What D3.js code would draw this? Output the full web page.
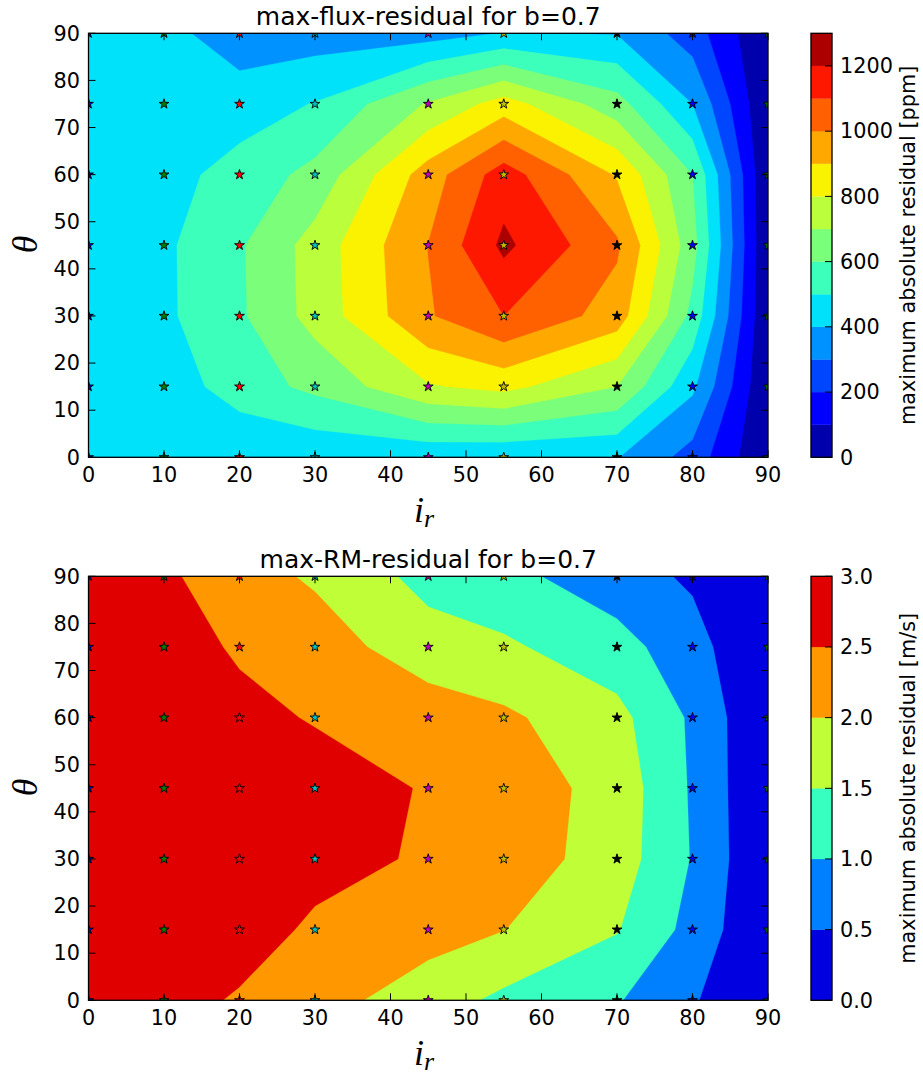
<!DOCTYPE html>
<html><head><meta charset="utf-8">
<script src="https://cdn.jsdelivr.net/npm/d3@7"></script>
<style>
body{margin:0;background:#fff}
svg{display:block}
text{font-family:"DejaVu Sans",sans-serif;fill:#000}
</style>
</head><body>
<svg id="chart" width="923" height="1075"></svg>
<script>
// ---------------- data ----------------
const irValues = [0, 10, 20, 30, 45, 55, 70, 80, 90];
const thetaValues = [0, 15, 30, 45, 60, 75, 90];
const axisTicks = [0, 10, 20, 30, 40, 50, 60, 70, 80, 90];

// rows: theta = 0,15,30,45,60,75,90 ; columns follow irValues  [ppm]
const fluxResidual = [
  [460, 455, 410, 420, 420, 410, 405, 260, 0],
  [465, 441, 550, 625, 790, 830, 700, 420, 0],
  [470, 481, 585, 737, 990, 1100, 955, 570, 0],
  [470, 482, 588, 741, 1002, 1222, 1015, 640, 0],
  [465, 462, 540, 630, 950, 1150, 890, 600, 0],
  [455, 450, 450, 505, 710, 845, 640, 400, 0],
  [440, 432, 344, 350, 356, 405, 395, 250, 0]
];
// rows: theta = 0..90 ; columns follow irValues  [m/s]
const rmResidual = [
  [2.85, 2.75, 2.43, 2.20, 1.735, 1.39, 1.04, 0.55, 0.00],
  [2.90, 2.85, 2.80, 2.39, 2.20, 2.01, 1.53, 0.84, 0.00],
  [2.90, 2.90, 2.85, 2.72, 2.42, 2.29, 1.75, 0.97, 0.00],
  [2.90, 2.90, 2.85, 2.75, 2.46, 2.30, 1.80, 0.94, 0.00],
  [2.90, 2.85, 2.65, 2.46, 2.28, 2.09, 1.65, 0.92, 0.00],
  [2.85, 2.75, 2.43, 2.25, 1.71, 1.58, 1.20, 0.68, 0.02],
  [2.80, 2.59, 2.20, 1.93, 1.34, 1.15, 0.70, 0.43, 0.00]
];
const fluxLevels = [0, 100, 200, 300, 400, 500, 600, 700, 800, 900, 1000, 1100, 1200, 1300];
const rmLevels = [0, 0.5, 1.0, 1.5, 2.0, 2.5, 3.0];
const fluxTicks = [0, 200, 400, 600, 800, 1000, 1200];
const rmTicks = [0, 0.5, 1.0, 1.5, 2.0, 2.5, 3.0];
const starColors = ["#0000ff", "#008000", "#ff0000", "#00bfbf", "#bf00bf", "#bfbf00", "#000000"];

// ---------------- jet colormap ----------------
const jetR = [[0, 0], [0.35, 0], [0.66, 1], [0.89, 1], [1, 0.5]];
const jetG = [[0, 0], [0.125, 0], [0.375, 1], [0.64, 1], [0.91, 0], [1, 0]];
const jetB = [[0, 0.5], [0.11, 1], [0.34, 1], [0.65, 0], [1, 0]];
function seg(s, t) {
  for (let k = 1; k < s.length; k++) {
    if (t <= s[k][0]) {
      const f = (t - s[k - 1][0]) / (s[k][0] - s[k - 1][0]);
      return s[k - 1][1] + f * (s[k][1] - s[k - 1][1]);
    }
  }
  return s[s.length - 1][1];
}
function jet(t) {
  t = Math.max(0, Math.min(1, t));
  return d3.rgb(255 * seg(jetR, t), 255 * seg(jetG, t), 255 * seg(jetB, t)).formatHex();
}

function idxToVal(arr, c) {
  const t = c - 0.5;
  if (t <= 0) return arr[0];
  if (t >= arr.length - 1) return arr[arr.length - 1];
  const i = Math.floor(t), f = t - i;
  return arr[i] + f * (arr[i + 1] - arr[i]);
}

const svg = d3.select("#chart");
const plotX0 = 88.5, plotX1 = 768;
const cbX0 = 811, cbX1 = 832;
const baseFont = 20.8;

const panels = [
  { title: "max-flux-residual for b=0.7", data: fluxResidual, levels: fluxLevels, ticks: fluxTicks,
    fmt: d => String(d), label: "maximum absolute residual [ppm]", top: 33.3, bottom: 457.3, id: "a" },
  { title: "max-RM-residual for b=0.7", data: rmResidual, levels: rmLevels, ticks: rmTicks,
    fmt: d3.format(".1f"), label: "maximum absolute residual [m/s]", top: 576.3, bottom: 1000.3, id: "b" }
];

panels.forEach(p => {
  const x = d3.scaleLinear().domain([0, 90]).range([plotX0, plotX1]);
  const y = d3.scaleLinear().domain([0, 90]).range([p.bottom, p.top]);
  const lv = p.levels;
  const lo = lv[0], hi = lv[lv.length - 1];
  const color = i => jet(((lv[i] + lv[i + 1]) / 2 - lo) / (hi - lo));

  svg.append("clipPath").attr("id", "clip" + p.id)
    .append("rect").attr("x", plotX0).attr("y", p.top)
    .attr("width", plotX1 - plotX0).attr("height", p.bottom - p.top);

  const g = svg.append("g").attr("clip-path", `url(#clip${p.id})`);

  const flat = p.data.flat();
  const contours = d3.contours().size([irValues.length, thetaValues.length])
    .thresholds(lv.slice(0, -1))(flat);
  const proj = d3.geoTransform({
    point: function (cx, cy) {
      this.stream.point(x(idxToVal(irValues, cx)), y(idxToVal(thetaValues, cy)));
    }
  });
  const path = d3.geoPath(proj);
  g.selectAll("path.band").data(contours).join("path")
    .attr("class", "band")
    .attr("d", path)
    .attr("fill", (d, i) => color(i))
    .attr("stroke", (d, i) => color(i))
    .attr("stroke-width", 0.3);

  // stars
  const star = d3.symbol(d3.symbolStar, 30)();
  thetaValues.forEach(t => {
    irValues.forEach((ir, i) => {
      g.append("path").attr("d", star)
        .attr("transform", `translate(${x(ir)},${y(t)})`)
        .attr("fill", starColors[i % starColors.length])
        .attr("stroke", "#000").attr("stroke-width", 0.9);
    });
  });

  // ticks
  const tk = svg.append("g").attr("stroke", "#000").attr("stroke-width", 1);
  axisTicks.forEach(t => {
    tk.append("line").attr("x1", x(t)).attr("x2", x(t)).attr("y1", p.bottom).attr("y2", p.bottom - 7);
    tk.append("line").attr("x1", x(t)).attr("x2", x(t)).attr("y1", p.top).attr("y2", p.top + 7);
    tk.append("line").attr("y1", y(t)).attr("y2", y(t)).attr("x1", plotX0).attr("x2", plotX0 + 7);
    tk.append("line").attr("y1", y(t)).attr("y2", y(t)).attr("x1", plotX1).attr("x2", plotX1 - 7);
    svg.append("text").attr("x", x(t)).attr("y", p.bottom + 25).attr("text-anchor", "middle")
      .attr("font-size", baseFont).text(t);
    svg.append("text").attr("x", 80).attr("y", y(t) + 7.3).attr("text-anchor", "end")
      .attr("font-size", baseFont).text(t);
  });
  svg.append("rect").attr("x", plotX0).attr("y", p.top)
    .attr("width", plotX1 - plotX0).attr("height", p.bottom - p.top)
    .attr("fill", "none").attr("stroke", "#000").attr("stroke-width", 1.3);

  // title and labels
  svg.append("text").attr("x", (plotX0 + plotX1) / 2).attr("y", p.top - 8.3)
    .attr("text-anchor", "middle").attr("font-size", 25).text(p.title);
  svg.append("text").attr("transform", `translate(37,${(p.top + p.bottom) / 2 - 1}) rotate(-90)`)
    .attr("text-anchor", "middle").style("font-family", "'Liberation Serif',serif")
    .style("font-style", "italic").attr("font-size", 36).text("θ");
  const xl = svg.append("text").attr("x", 414).attr("y", p.bottom + 64.4)
    .style("font-family", "'Liberation Serif',serif").style("font-style", "italic");
  xl.append("tspan").attr("font-size", 36).text("i");
  xl.append("tspan").attr("font-size", 26).attr("dy", 5).text("r");

  // colorbar
  const cy = d3.scaleLinear().domain([lo, hi]).range([p.bottom, p.top]);
  const cb = svg.append("g");
  for (let i = 0; i < lv.length - 1; i++) {
    cb.append("rect").attr("x", cbX0).attr("width", cbX1 - cbX0)
      .attr("y", cy(lv[i + 1])).attr("height", cy(lv[i]) - cy(lv[i + 1]))
      .attr("fill", color(i)).attr("stroke", color(i)).attr("stroke-width", 0.3);
  }
  p.ticks.forEach(t => {
    cb.append("line").attr("x1", cbX1).attr("x2", cbX1 - 7).attr("y1", cy(t)).attr("y2", cy(t))
      .attr("stroke", "#000").attr("stroke-width", 1);
    cb.append("text").attr("x", 840).attr("y", cy(t) + 7.3).attr("font-size", baseFont).text(p.fmt(t));
  });
  cb.append("rect").attr("x", cbX0).attr("y", p.top).attr("width", cbX1 - cbX0)
    .attr("height", p.bottom - p.top).attr("fill", "none").attr("stroke", "#000").attr("stroke-width", 1.3);
  svg.append("text").attr("transform", `translate(915,${(p.top + p.bottom) / 2}) rotate(-90)`)
    .attr("text-anchor", "middle").attr("font-size", baseFont).text(p.label);
});
</script>
</body></html>
